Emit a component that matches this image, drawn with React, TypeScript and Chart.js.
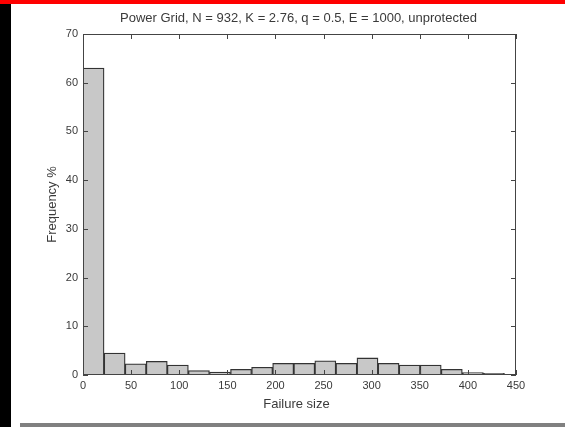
import { useEffect, useRef } from "react";
import { Chart, registerables } from "chart.js";

Chart.register(...registerables);

const TITLE = "Power Grid, N = 932, K = 2.76, q = 0.5, E = 1000, unprotected";
const X_LABEL = "Failure size";
const Y_LABEL = "Frequency %";

const binCenters = [
  10.95, 32.85, 54.75, 76.65, 98.55, 120.45, 142.35, 164.25, 186.15, 208.05,
  229.95, 251.85, 273.75, 295.65, 317.55, 339.45, 361.35, 383.25, 405.15, 427.05,
];
const frequency = [
  63.0, 4.5, 2.3, 2.8, 2.05, 0.9, 0.6, 1.15, 1.6, 2.4,
  2.4, 2.9, 2.4, 3.5, 2.4, 2.05, 2.05, 1.15, 0.5, 0.35,
];
const xTicks = [0, 50, 100, 150, 200, 250, 300, 350, 400, 450];
const yTicks = [0, 10, 20, 30, 40, 50, 60, 70];

const FONT = "'Liberation Sans', Arial, sans-serif";
const TEXT = "#3a3a3a";

const framePlugin = {
  id: "matlabFrame",
  afterDatasetsDraw(chart: any) {
    const { ctx, chartArea: a, scales } = chart;
    const x = scales.x;
    const y = scales.y;
    ctx.save();
    ctx.strokeStyle = "#444";
    ctx.lineWidth = 1;
    ctx.strokeRect(a.left + 0.5, a.top + 0.5, a.right - a.left - 1, a.bottom - a.top - 1);
    const L = 5;
    ctx.beginPath();
    for (const v of xTicks) {
      const px = Math.round(x.getPixelForValue(v)) + 0.5;
      ctx.moveTo(px, a.bottom);
      ctx.lineTo(px, a.bottom - L);
      ctx.moveTo(px, a.top);
      ctx.lineTo(px, a.top + L);
    }
    for (const v of yTicks) {
      const py = Math.round(y.getPixelForValue(v)) + 0.5;
      ctx.moveTo(a.left, py);
      ctx.lineTo(a.left + L, py);
      ctx.moveTo(a.right, py);
      ctx.lineTo(a.right - L, py);
    }
    ctx.stroke();
    ctx.restore();
  },
  afterDraw(chart: any) {
    const { ctx, chartArea: a } = chart;
    ctx.save();
    ctx.fillStyle = TEXT;
    ctx.font = `13px ${FONT}`;
    ctx.textAlign = "center";
    ctx.textBaseline = "middle";
    const cx = (a.left + a.right) / 2;
    ctx.fillText(TITLE, cx - 1, 18);
    ctx.fillText(X_LABEL, cx - 3, 404);
    ctx.translate(52, (a.top + a.bottom) / 2);
    ctx.rotate(-Math.PI / 2);
    ctx.fillText(Y_LABEL, 0, 0);
    ctx.restore();
  },
};

export default function App() {
  const ref = useRef<HTMLCanvasElement | null>(null);

  useEffect(() => {
    if (!ref.current) return;
    const chart = new Chart(ref.current, {
      type: "bar",
      data: {
        datasets: [
          {
            data: binCenters.map((c, i) => ({ x: c, y: frequency[i] })),
            backgroundColor: "#c8c8c8",
            borderColor: "#333333",
            borderWidth: 1.3,
            borderSkipped: false,
            barPercentage: 1,
            categoryPercentage: 1,
          },
        ],
      },
      options: {
        animation: false,
        responsive: false,
        maintainAspectRatio: false,
        layout: { padding: { left: 0, right: 49, top: 34, bottom: 0 } },
        plugins: {
          legend: { display: false },
          tooltip: { enabled: false },
          title: { display: false },
        },
        scales: {
          x: {
            type: "linear",
            min: 0,
            max: 450,
            offset: false,
            grid: { display: false, drawTicks: false },
            border: { display: false },
            afterBuildTicks: (s: any) => {
              s.ticks = xTicks.map((v) => ({ value: v }));
            },
            afterFit: (s: any) => {
              s.height = 52;
            },
            ticks: {
              autoSkip: false,
              maxRotation: 0,
              padding: 4,
              color: TEXT,
              font: { family: FONT, size: 11 },
            },
          },
          y: {
            min: 0,
            max: 70,
            grid: { display: false, drawTicks: false },
            border: { display: false },
            afterBuildTicks: (s: any) => {
              s.ticks = yTicks.map((v) => ({ value: v }));
            },
            afterFit: (s: any) => {
              s.width = 83;
            },
            ticks: {
              padding: 5,
              color: TEXT,
              font: { family: FONT, size: 11 },
            },
          },
        },
      },
      plugins: [framePlugin],
    });
    return () => chart.destroy();
  }, []);

  return (
    <div style={{ position: "fixed", left: 0, top: 0, width: 565, height: 427, background: "#fff", overflow: "hidden" }}>
      <canvas ref={ref} width={565} height={427} style={{ position: "absolute", left: 0, top: 0, width: 565, height: 427 }} />
      <div style={{ position: "absolute", left: 0, top: 0, width: 565, height: 4, background: "#ff0000" }} />
      <div style={{ position: "absolute", left: 0, top: 4, width: 11, height: 423, background: "#000" }} />
      <div style={{ position: "absolute", left: 20, top: 423, width: 545, height: 4, background: "#808080" }} />
    </div>
  );
}
